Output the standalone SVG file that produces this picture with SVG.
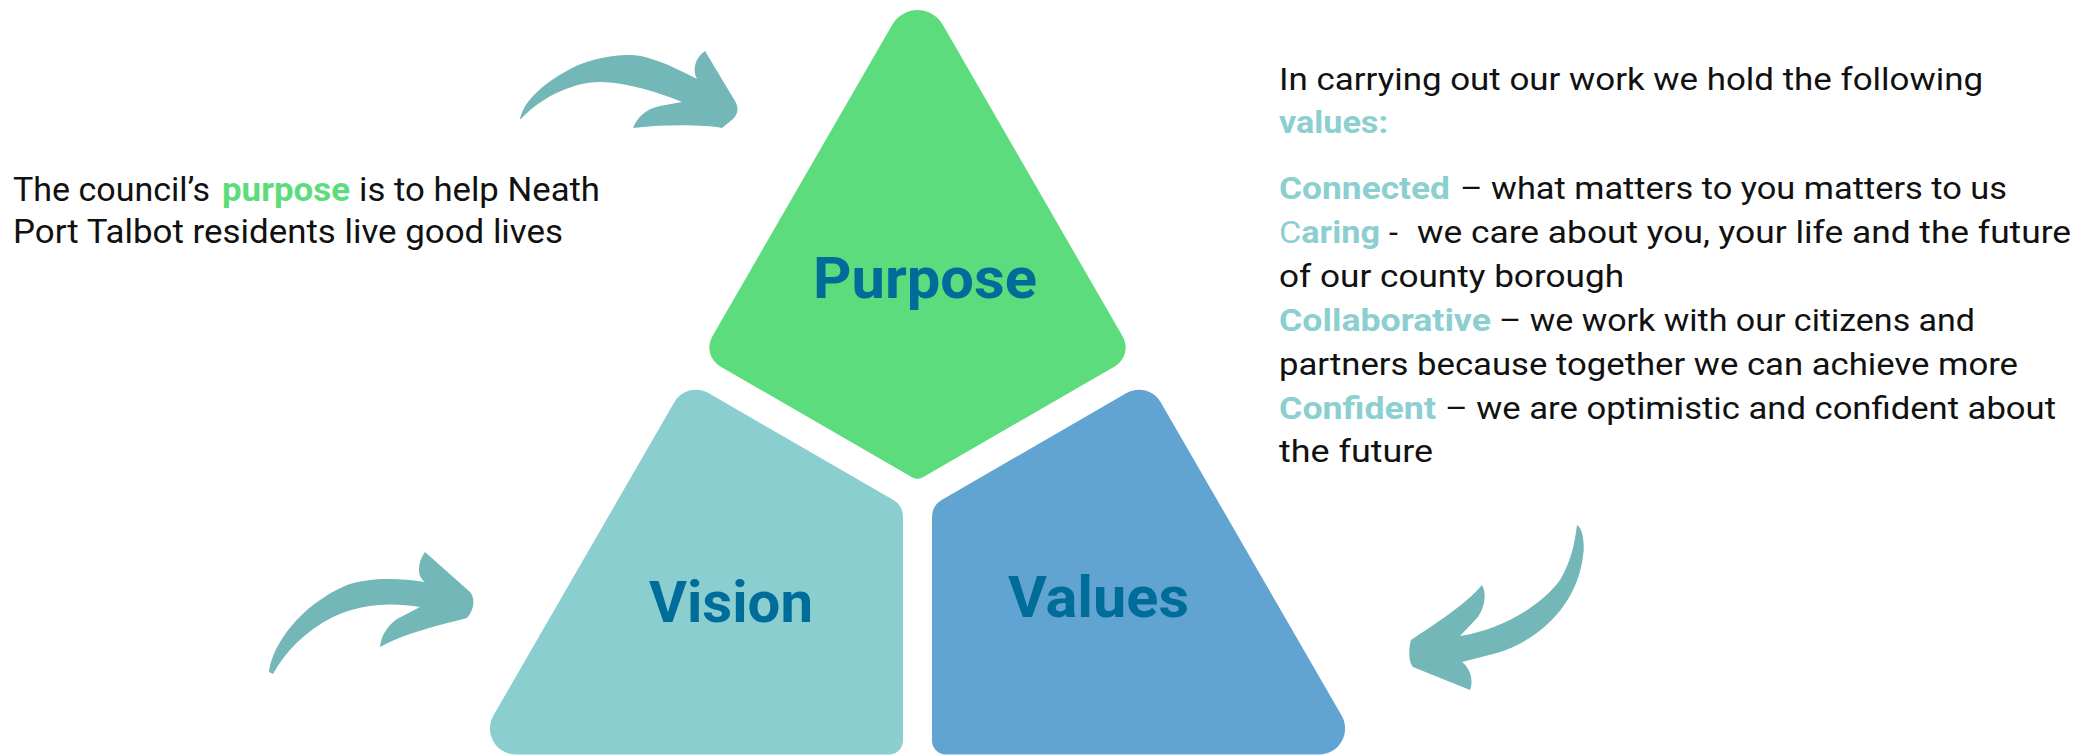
<svg xmlns="http://www.w3.org/2000/svg" width="2098" height="755" viewBox="0 0 2098 755">
<style>
.txt{font-family:Roboto,"Liberation Sans",Arial,sans-serif;font-size:32px;fill:#111111}
.lt{font-family:Roboto,"Liberation Sans",Arial,sans-serif;font-size:33px;fill:#111111}
.hl{fill:#8ccfd0;font-weight:bold}
.hn{fill:#8ccfd0;font-weight:normal}
.gr{fill:#5cdc7c;font-weight:bold}
.lbl{font-family:Roboto,"Liberation Sans",Arial,sans-serif;font-size:58px;font-weight:bold;fill:#006c9a}
.arrow{fill:#74b7b8}
</style>
<rect width="2098" height="755" fill="#ffffff"/>
<g id="node-purpose">
<path fill="#5cdc7c" d="M 942.6 24.5 L 1122.7 336.4 A 22 22 0 0 1 1114.7 366.5 L 922.5 477.4 A 10 10 0 0 1 912.5 477.4 L 720.4 366.5 A 22 22 0 0 1 712.3 336.4 L 892.4 24.5 A 29 29 0 0 1 942.6 24.5 Z"/>
<text class="lbl" x="813" y="298" textLength="224" lengthAdjust="spacingAndGlyphs">Purpose</text>
</g>
<g id="node-vision">
<path fill="#8bcecf" d="M 708.45 393.05 L 893 499.65 A 20 20 0 0 1 903 516.9 L 903 740.5 A 14 14 0 0 1 889 754.5 L 515.9 754.5 A 26 26 0 0 1 493.4 715.5 L 674.3 402.2 A 25 25 0 0 1 708.45 393.05 Z"/>
<text class="lbl" x="649" y="622" textLength="164" lengthAdjust="spacingAndGlyphs">Vision</text>
</g>
<g id="node-values">
<path fill="#62a4d1" d="M 1160.7 402.2 L 1341.6 715.5 A 26 26 0 0 1 1319.1 754.5 L 946 754.5 A 14 14 0 0 1 932 740.5 L 932 516.9 A 20 20 0 0 1 942 499.65 L 1126.55 393.05 A 25 25 0 0 1 1160.7 402.2 Z"/>
<text class="lbl" x="1008" y="617" textLength="181" lengthAdjust="spacingAndGlyphs">Values</text>
</g>
<g id="connectors">
<path class="arrow" d="M 520 119 C 524 100, 545 82, 572 68 C 595 57, 625 52, 645 57 C 665 62, 685 73, 697 79 C 692 70, 695 58, 705 51 L 735 101 C 739 108, 738 114, 733 119 L 722 128 C 705 125, 670 124, 633 128 C 637 118, 645 109, 660 106 L 682 102 C 660 93, 630 83, 602 82 C 580 81, 545 93, 521 119 Z"/>
<path class="arrow" d="M 269 672 C 272 645, 300 605, 347 585 C 370 577, 400 578, 425 582 C 416 576, 418 562, 425 552 L 470 592 C 475 597, 475 609, 467 618 C 440 625, 405 633, 380 647 C 381 637, 386 627, 397 619 L 420 607 C 395 603, 365 602, 333 617 C 305 631, 285 652, 273 674 Z"/>
<path class="arrow" d="M 1577 525 C 1583 528, 1585 545, 1583 556 C 1578 600, 1545 638, 1497 653 L 1462 662 C 1470 668, 1474 680, 1470 690 L 1413 667 C 1409 663, 1408 650, 1411 640 C 1435 624, 1465 605, 1482 585 C 1486 592, 1486 605, 1478 617 L 1460 636 C 1500 630, 1540 607, 1560 580 C 1572 560, 1575 540, 1577 525 Z"/>
</g>
<g id="purpose-text">
<text class="lt" x="13" y="201" textLength="197" lengthAdjust="spacingAndGlyphs">The council’s</text>
<text class="lt gr" x="222" y="201" textLength="128" lengthAdjust="spacingAndGlyphs">purpose</text>
<text class="lt" x="359" y="201" textLength="241" lengthAdjust="spacingAndGlyphs">is to help Neath</text>
<text class="lt" x="13" y="243" textLength="550" lengthAdjust="spacingAndGlyphs">Port Talbot residents live good lives</text>
</g>
<g id="values-text">
<text class="txt" x="1279" y="90" textLength="704" lengthAdjust="spacingAndGlyphs">In carrying out our work we hold the following</text>
<text class="txt hl" x="1279" y="133" textLength="109" lengthAdjust="spacingAndGlyphs">values:</text>
<text class="txt hl" x="1279" y="199" textLength="171" lengthAdjust="spacingAndGlyphs">Connected</text>
<text class="txt" x="1460" y="199" textLength="547" lengthAdjust="spacingAndGlyphs">– what matters to you matters to us</text>
<text class="txt" x="1279" y="243" textLength="101" lengthAdjust="spacingAndGlyphs"><tspan class="hn">C</tspan><tspan class="hl">aring</tspan></text>
<text class="txt" x="1389" y="243">-</text>
<text class="txt" x="1417" y="243" textLength="654" lengthAdjust="spacingAndGlyphs">we care about you, your life and the future</text>
<text class="txt" x="1279" y="287" textLength="345" lengthAdjust="spacingAndGlyphs">of our county borough</text>
<text class="txt hl" x="1279" y="331" textLength="212" lengthAdjust="spacingAndGlyphs">Collaborative</text>
<text class="txt" x="1499" y="331" textLength="476" lengthAdjust="spacingAndGlyphs">– we work with our citizens and</text>
<text class="txt" x="1279" y="375" textLength="739" lengthAdjust="spacingAndGlyphs">partners because together we can achieve more</text>
<text class="txt hl" x="1279" y="419" textLength="157" lengthAdjust="spacingAndGlyphs">Confident</text>
<text class="txt" x="1445" y="419" textLength="611" lengthAdjust="spacingAndGlyphs">– we are optimistic and confident about</text>
<text class="txt" x="1279" y="462" textLength="154" lengthAdjust="spacingAndGlyphs">the future</text>
</g>
</svg>
